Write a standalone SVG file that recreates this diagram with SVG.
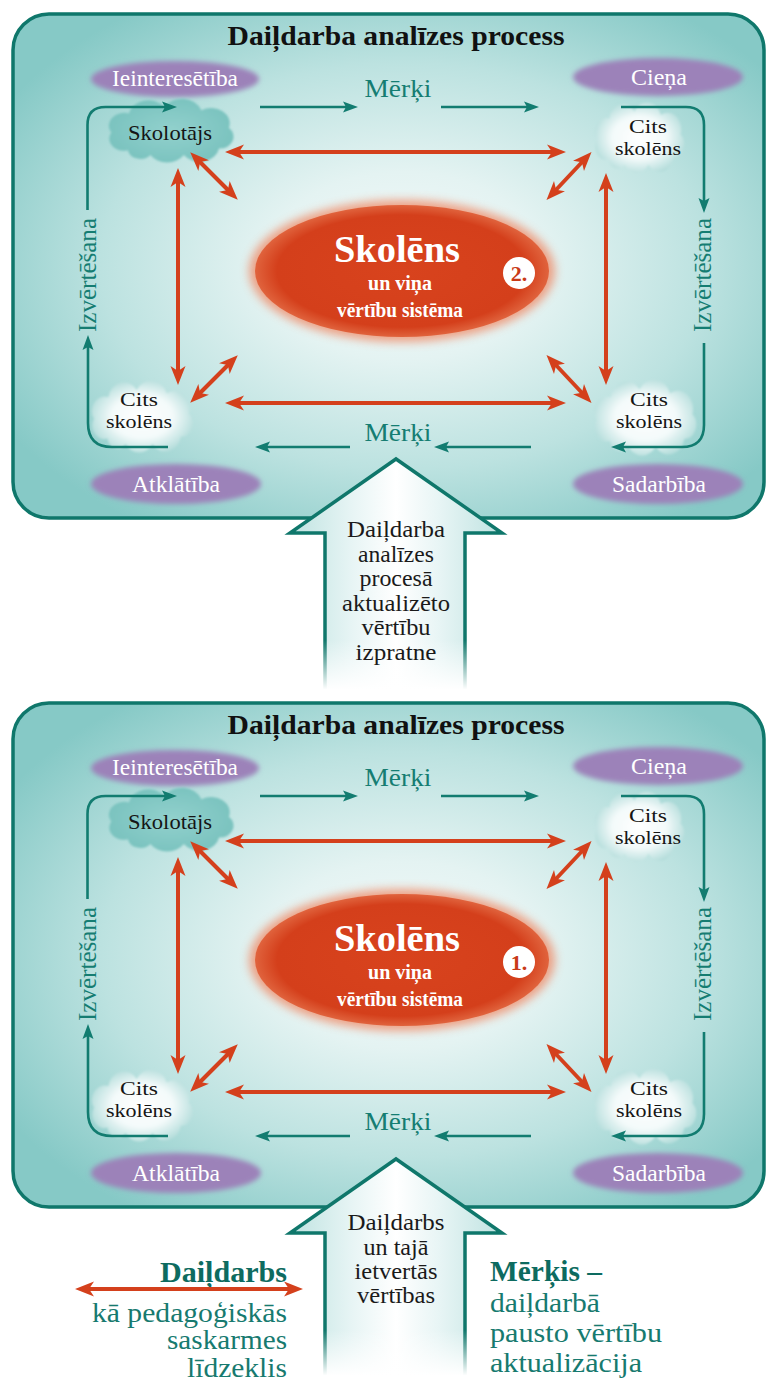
<svg xmlns="http://www.w3.org/2000/svg" width="768" height="1387" viewBox="0 0 768 1387" font-family="'Liberation Serif', 'DejaVu Serif', serif">
<style>
text { font-family: "Liberation Serif", "Times New Roman", "DejaVu Serif", serif; }
.title { font-size: 28px; font-weight: bold; fill: #111; text-anchor: middle; }
.pl { font-size: 23px; fill: #ffffff; text-anchor: middle; }
.pe { fill: #9c82b9; }
.tl { font-size: 25px; fill: #157d72; text-anchor: middle; }
.cl { font-size: 21px; fill: #151515; text-anchor: middle; }
.cs { font-size: 19px; fill: #151515; text-anchor: middle; }
.big { font-size: 38px; font-weight: bold; fill: #ffffff; text-anchor: middle; }
.sub { font-size: 20px; font-weight: bold; fill: #ffffff; text-anchor: middle; }
.num { font-size: 22px; font-weight: bold; fill: #c93a17; text-anchor: middle; }
.at { font-size: 23px; fill: #1a1a1a; text-anchor: middle; }
.red { stroke: #d4401c; stroke-width: 4; fill: none; }
.teal { stroke: #127c70; stroke-width: 2.6; fill: none; }
.arrowOut { fill: none; stroke: #0f776b; stroke-width: 3.5; stroke-linejoin: miter; }
.lg { font-size: 27px; fill: #177a6f; }
.lgb { font-size: 29px; font-weight: bold; fill: #0d6b60; }
</style>
<defs>
  <radialGradient id="panelG" cx="0.52" cy="0.5" r="0.62">
    <stop offset="0" stop-color="#f4fafa"/>
    <stop offset="0.3" stop-color="#e4f3f2"/>
    <stop offset="0.65" stop-color="#bce2e0"/>
    <stop offset="1" stop-color="#86c9c6"/>
  </radialGradient>
  <radialGradient id="redG" cx="0.5" cy="0.5" r="0.5">
    <stop offset="0" stop-color="#d8431d"/>
    <stop offset="0.85" stop-color="#d43f1b"/>
    <stop offset="1" stop-color="#e0633d"/>
  </radialGradient>
  <radialGradient id="cloudW" cx="0.5" cy="0.5" r="0.55">
    <stop offset="0" stop-color="#ffffff"/>
    <stop offset="0.55" stop-color="#f3fafa"/>
    <stop offset="1" stop-color="#b2dcda"/>
  </radialGradient>
  <radialGradient id="cloudT" cx="0.5" cy="0.5" r="0.55">
    <stop offset="0" stop-color="#92d1cd"/>
    <stop offset="1" stop-color="#79c2be"/>
  </radialGradient>
  <linearGradient id="arrowFill" x1="0" y1="0" x2="1" y2="0">
    <stop offset="0" stop-color="#bfe3e1"/>
    <stop offset="0.3" stop-color="#e8f5f5"/>
    <stop offset="0.5" stop-color="#ffffff"/>
    <stop offset="0.7" stop-color="#e8f5f5"/>
    <stop offset="1" stop-color="#bfe3e1"/>
  </linearGradient>
  <linearGradient id="fadeW" x1="0" y1="0" x2="0" y2="1">
    <stop offset="0" stop-color="#ffffff" stop-opacity="0"/>
    <stop offset="0.8" stop-color="#ffffff" stop-opacity="1"/>
    <stop offset="1" stop-color="#ffffff" stop-opacity="1"/>
  </linearGradient>
  <filter id="soft" x="-20%" y="-50%" width="140%" height="200%">
    <feGaussianBlur stdDeviation="2.5"/>
  </filter>
  <filter id="softc" x="-20%" y="-30%" width="140%" height="160%">
    <feGaussianBlur stdDeviation="1.3"/>
  </filter>
  <filter id="glow" x="-20%" y="-40%" width="140%" height="180%">
    <feGaussianBlur stdDeviation="5"/>
  </filter>
  <marker id="rh" viewBox="-10 -8 22 16" refX="0" refY="0" markerWidth="22" markerHeight="16" markerUnits="userSpaceOnUse" orient="auto-start-reverse">
    <path d="M11,0 L-8,-7.5 L-3,0 L-8,7.5 Z" fill="#d4401c"/>
  </marker>
  <marker id="th" viewBox="-8 -6 17 12" refX="0" refY="0" markerWidth="17" markerHeight="12" markerUnits="userSpaceOnUse" orient="auto">
    <path d="M8,0 L-7,-5.5 L-4,0 L-7,5.5 Z" fill="#127c70"/>
  </marker>
  <path id="cloud" d="M-45,24 A15,15 0 0 1 -62,2 A16,16 0 0 1 -44,-22 A20,20 0 0 1 -8,-30 A21,21 0 0 1 30,-26 A19,19 0 0 1 58,-4 A15,15 0 0 1 48,22 A20,20 0 0 1 12,30 A20,20 0 0 1 -22,30 A13,13 0 0 1 -45,24 Z"/>
</defs>

<rect x="0" y="0" width="768" height="1387" fill="#ffffff"/>

<!-- ============ PANEL 2 (top) ============ -->
<g id="top-panel">
  <g id="p1-frame">
    <rect x="13" y="14" width="751" height="504" rx="36" fill="url(#panelG)" stroke="#0f776b" stroke-width="3.5"/>
    <text class="title" x="396" y="45" textLength="337" lengthAdjust="spacingAndGlyphs">Daiļdarba analīzes process</text>
  </g>
  <g id="p1-ieinteresetiba"><ellipse class="pe" cx="175" cy="79" rx="84" ry="18" filter="url(#soft)"/><text class="pl" x="175" y="86" textLength="126" lengthAdjust="spacingAndGlyphs">Ieinteresētība</text></g>
  <g id="p1-ciena"><ellipse class="pe" cx="658" cy="77" rx="85" ry="19" filter="url(#soft)"/><text class="pl" x="659" y="85" textLength="56" lengthAdjust="spacingAndGlyphs">Cieņa</text></g>
  <g id="p1-atklatiba"><ellipse class="pe" cx="176" cy="484" rx="85" ry="20" filter="url(#soft)"/><text class="pl" x="176" y="492" textLength="88" lengthAdjust="spacingAndGlyphs">Atklātība</text></g>
  <g id="p1-sadarbiba"><ellipse class="pe" cx="658" cy="484" rx="85" ry="20" filter="url(#soft)"/><text class="pl" x="659" y="492" textLength="94" lengthAdjust="spacingAndGlyphs">Sadarbība</text></g>

  <g id="p1-skolotajs"><use href="#cloud" transform="translate(172,131) scale(0.98,0.8)" fill="url(#cloudT)" filter="url(#softc)"/><text class="cl" x="170" y="140" textLength="84" lengthAdjust="spacingAndGlyphs">Skolotājs</text></g>
  <g id="p1-cits-tr"><use href="#cloud" transform="translate(640,138) scale(0.7,0.88)" fill="url(#cloudW)" filter="url(#softc)"/><text class="cs" x="648" y="133" textLength="38" lengthAdjust="spacingAndGlyphs">Cits</text><text class="cs" x="648" y="155" textLength="66" lengthAdjust="spacingAndGlyphs">skolēns</text></g>
  <g id="p1-cits-bl"><use href="#cloud" transform="translate(143,417) scale(0.79,0.9)" fill="url(#cloudW)" filter="url(#softc)"/><text class="cs" x="139" y="406" textLength="38" lengthAdjust="spacingAndGlyphs">Cits</text><text class="cs" x="139" y="428" textLength="66" lengthAdjust="spacingAndGlyphs">skolēns</text></g>
  <g id="p1-cits-br"><use href="#cloud" transform="translate(646,418) scale(0.8,0.95)" fill="url(#cloudW)" filter="url(#softc)"/><text class="cs" x="649" y="406" textLength="38" lengthAdjust="spacingAndGlyphs">Cits</text><text class="cs" x="649" y="428" textLength="66" lengthAdjust="spacingAndGlyphs">skolēns</text></g>

  <g id="p1-skolens">
    <ellipse cx="402" cy="271" rx="153" ry="71" fill="#ef8560" opacity="0.75" filter="url(#glow)"/>
    <ellipse cx="402" cy="271" rx="147" ry="66" fill="url(#redG)"/>
    <text class="big" x="397" y="262" textLength="126" lengthAdjust="spacingAndGlyphs">Skolēns</text>
    <text class="sub" x="400" y="290" textLength="64" lengthAdjust="spacingAndGlyphs">un viņa</text>
    <text class="sub" x="400" y="317" textLength="126" lengthAdjust="spacingAndGlyphs">vērtību sistēma</text>
    <circle cx="519" cy="273" r="16" fill="#ffffff"/>
    <text class="num" x="519" y="281">2.</text>
  </g>

  <g id="p1-labels">
    <text class="tl" x="398" y="97" textLength="67" lengthAdjust="spacingAndGlyphs">Mērķi</text>
    <text class="tl" x="398" y="441" textLength="67" lengthAdjust="spacingAndGlyphs">Mērķi</text>
    <text class="tl" transform="translate(96,275) rotate(-90)" textLength="114" lengthAdjust="spacingAndGlyphs">Izvērtēšana</text>
    <text class="tl" transform="translate(711,275) rotate(-90)" textLength="114" lengthAdjust="spacingAndGlyphs">Izvērtēšana</text>
  </g>

  <g id="p1-connectors">
    <path class="teal" d="M260,107 H350" marker-end="url(#th)"/>
    <path class="teal" d="M441,107 H531" marker-end="url(#th)"/>
    <path class="teal" d="M350,447 H263" marker-end="url(#th)"/>
    <path class="teal" d="M531,447 H442" marker-end="url(#th)"/>
    <path class="teal" d="M87.5,210 V125 Q87.5,107 105.5,107 H169" marker-end="url(#th)"/>
    <path class="teal" d="M168,447 H112 Q88,447 88,423 V343" marker-end="url(#th)"/>
    <path class="teal" d="M621,107 H686 Q704,107 704,125 V205" marker-end="url(#th)"/>
    <path class="teal" d="M704,343 V425 Q704,447 682,447 H619" marker-end="url(#th)"/>
    <path class="red" d="M236,152 H555" marker-start="url(#rh)" marker-end="url(#rh)"/>
    <path class="red" d="M236,403 H555" marker-start="url(#rh)" marker-end="url(#rh)"/>
    <path class="red" d="M178,179 V374" marker-start="url(#rh)" marker-end="url(#rh)"/>
    <path class="red" d="M606,184 V374" marker-start="url(#rh)" marker-end="url(#rh)"/>
    <path class="red" d="M198,160 L230,192" marker-start="url(#rh)" marker-end="url(#rh)"/>
    <path class="red" d="M584,160 L554,192" marker-start="url(#rh)" marker-end="url(#rh)"/>
    <path class="red" d="M198,395 L230,363" marker-start="url(#rh)" marker-end="url(#rh)"/>
    <path class="red" d="M554,363 L584,395" marker-start="url(#rh)" marker-end="url(#rh)"/>
  </g>
</g>

<g id="top-arrow">
  <path d="M325,700 V533 H290 L396,459 L502,533 H465 V700 Z" fill="url(#arrowFill)"/>
  <path class="arrowOut" d="M325,700 V533 H290 L396,459 L502,533 H465 V700"/>
  <rect x="310" y="640" width="170" height="62" fill="url(#fadeW)"/>
  <text class="at" x="396" y="537" textLength="98" lengthAdjust="spacingAndGlyphs">Daiļdarba</text>
  <text class="at" x="396" y="562" textLength="76" lengthAdjust="spacingAndGlyphs">analīzes</text>
  <text class="at" x="396" y="586" textLength="73" lengthAdjust="spacingAndGlyphs">procesā</text>
  <text class="at" x="396" y="611" textLength="108" lengthAdjust="spacingAndGlyphs">aktualizēto</text>
  <text class="at" x="396" y="635" textLength="69" lengthAdjust="spacingAndGlyphs">vērtību</text>
  <text class="at" x="396" y="660" textLength="81" lengthAdjust="spacingAndGlyphs">izpratne</text>
</g>

<!-- ============ PANEL 1 (bottom) ============ -->
<g id="bottom-panel" transform="translate(0,689)">
  <g id="p2-frame">
    <rect x="13" y="14" width="751" height="504" rx="36" fill="url(#panelG)" stroke="#0f776b" stroke-width="3.5"/>
    <text class="title" x="396" y="45" textLength="337" lengthAdjust="spacingAndGlyphs">Daiļdarba analīzes process</text>
  </g>
  <g id="p2-ieinteresetiba"><ellipse class="pe" cx="175" cy="79" rx="84" ry="18" filter="url(#soft)"/><text class="pl" x="175" y="86" textLength="126" lengthAdjust="spacingAndGlyphs">Ieinteresētība</text></g>
  <g id="p2-ciena"><ellipse class="pe" cx="658" cy="77" rx="85" ry="19" filter="url(#soft)"/><text class="pl" x="659" y="85" textLength="56" lengthAdjust="spacingAndGlyphs">Cieņa</text></g>
  <g id="p2-atklatiba"><ellipse class="pe" cx="176" cy="484" rx="85" ry="20" filter="url(#soft)"/><text class="pl" x="176" y="492" textLength="88" lengthAdjust="spacingAndGlyphs">Atklātība</text></g>
  <g id="p2-sadarbiba"><ellipse class="pe" cx="658" cy="484" rx="85" ry="20" filter="url(#soft)"/><text class="pl" x="659" y="492" textLength="94" lengthAdjust="spacingAndGlyphs">Sadarbība</text></g>

  <g id="p2-skolotajs"><use href="#cloud" transform="translate(172,131) scale(0.98,0.8)" fill="url(#cloudT)" filter="url(#softc)"/><text class="cl" x="170" y="140" textLength="84" lengthAdjust="spacingAndGlyphs">Skolotājs</text></g>
  <g id="p2-cits-tr"><use href="#cloud" transform="translate(640,138) scale(0.7,0.88)" fill="url(#cloudW)" filter="url(#softc)"/><text class="cs" x="648" y="133" textLength="38" lengthAdjust="spacingAndGlyphs">Cits</text><text class="cs" x="648" y="155" textLength="66" lengthAdjust="spacingAndGlyphs">skolēns</text></g>
  <g id="p2-cits-bl"><use href="#cloud" transform="translate(143,417) scale(0.79,0.9)" fill="url(#cloudW)" filter="url(#softc)"/><text class="cs" x="139" y="406" textLength="38" lengthAdjust="spacingAndGlyphs">Cits</text><text class="cs" x="139" y="428" textLength="66" lengthAdjust="spacingAndGlyphs">skolēns</text></g>
  <g id="p2-cits-br"><use href="#cloud" transform="translate(646,418) scale(0.8,0.95)" fill="url(#cloudW)" filter="url(#softc)"/><text class="cs" x="649" y="406" textLength="38" lengthAdjust="spacingAndGlyphs">Cits</text><text class="cs" x="649" y="428" textLength="66" lengthAdjust="spacingAndGlyphs">skolēns</text></g>

  <g id="p2-skolens">
    <ellipse cx="402" cy="271" rx="153" ry="71" fill="#ef8560" opacity="0.75" filter="url(#glow)"/>
    <ellipse cx="402" cy="271" rx="147" ry="66" fill="url(#redG)"/>
    <text class="big" x="397" y="262" textLength="126" lengthAdjust="spacingAndGlyphs">Skolēns</text>
    <text class="sub" x="400" y="290" textLength="64" lengthAdjust="spacingAndGlyphs">un viņa</text>
    <text class="sub" x="400" y="317" textLength="126" lengthAdjust="spacingAndGlyphs">vērtību sistēma</text>
    <circle cx="519" cy="273" r="16" fill="#ffffff"/>
    <text class="num" x="519" y="281">1.</text>
  </g>

  <g id="p2-labels">
    <text class="tl" x="398" y="97" textLength="67" lengthAdjust="spacingAndGlyphs">Mērķi</text>
    <text class="tl" x="398" y="441" textLength="67" lengthAdjust="spacingAndGlyphs">Mērķi</text>
    <text class="tl" transform="translate(96,275) rotate(-90)" textLength="114" lengthAdjust="spacingAndGlyphs">Izvērtēšana</text>
    <text class="tl" transform="translate(711,275) rotate(-90)" textLength="114" lengthAdjust="spacingAndGlyphs">Izvērtēšana</text>
  </g>

  <g id="p2-connectors">
    <path class="teal" d="M260,107 H350" marker-end="url(#th)"/>
    <path class="teal" d="M441,107 H531" marker-end="url(#th)"/>
    <path class="teal" d="M350,447 H263" marker-end="url(#th)"/>
    <path class="teal" d="M531,447 H442" marker-end="url(#th)"/>
    <path class="teal" d="M87.5,210 V125 Q87.5,107 105.5,107 H169" marker-end="url(#th)"/>
    <path class="teal" d="M168,447 H112 Q88,447 88,423 V343" marker-end="url(#th)"/>
    <path class="teal" d="M621,107 H686 Q704,107 704,125 V205" marker-end="url(#th)"/>
    <path class="teal" d="M704,343 V425 Q704,447 682,447 H619" marker-end="url(#th)"/>
    <path class="red" d="M236,152 H555" marker-start="url(#rh)" marker-end="url(#rh)"/>
    <path class="red" d="M236,403 H555" marker-start="url(#rh)" marker-end="url(#rh)"/>
    <path class="red" d="M178,179 V374" marker-start="url(#rh)" marker-end="url(#rh)"/>
    <path class="red" d="M606,184 V374" marker-start="url(#rh)" marker-end="url(#rh)"/>
    <path class="red" d="M198,160 L230,192" marker-start="url(#rh)" marker-end="url(#rh)"/>
    <path class="red" d="M584,160 L554,192" marker-start="url(#rh)" marker-end="url(#rh)"/>
    <path class="red" d="M198,395 L230,363" marker-start="url(#rh)" marker-end="url(#rh)"/>
    <path class="red" d="M554,363 L584,395" marker-start="url(#rh)" marker-end="url(#rh)"/>
  </g>
</g>

<g id="bottom-arrow">
  <path d="M325,1400 V1233 H290 L396,1159 L502,1233 H465 V1400 Z" fill="url(#arrowFill)"/>
  <path class="arrowOut" d="M325,1400 V1233 H290 L396,1159 L502,1233 H465 V1400"/>
  <rect x="310" y="1330" width="170" height="57" fill="url(#fadeW)"/>
  <text class="at" x="396" y="1230" textLength="97" lengthAdjust="spacingAndGlyphs">Daiļdarbs</text>
  <text class="at" x="396" y="1255" textLength="65" lengthAdjust="spacingAndGlyphs">un tajā</text>
  <text class="at" x="396" y="1279" textLength="83" lengthAdjust="spacingAndGlyphs">ietvertās</text>
  <text class="at" x="396" y="1303" textLength="78" lengthAdjust="spacingAndGlyphs">vērtības</text>
</g>

<g id="legend-left">
  <text class="lgb" x="287" y="1282" text-anchor="end" textLength="127" lengthAdjust="spacingAndGlyphs">Daiļdarbs</text>
  <path class="red" d="M86,1289 H292" marker-start="url(#rh)" marker-end="url(#rh)"/>
  <text class="lg" x="287" y="1322" text-anchor="end" textLength="195" lengthAdjust="spacingAndGlyphs">kā pedagoģiskās</text>
  <text class="lg" x="287" y="1349" text-anchor="end" textLength="120" lengthAdjust="spacingAndGlyphs">saskarmes</text>
  <text class="lg" x="287" y="1377" text-anchor="end" textLength="100" lengthAdjust="spacingAndGlyphs">līdzeklis</text>
</g>

<g id="legend-right">
  <text class="lgb" x="490" y="1281" textLength="112" lengthAdjust="spacingAndGlyphs">Mērķis –</text>
  <text class="lg" x="490" y="1312" textLength="110" lengthAdjust="spacingAndGlyphs">daiļdarbā</text>
  <text class="lg" x="490" y="1342" textLength="172" lengthAdjust="spacingAndGlyphs">pausto vērtību</text>
  <text class="lg" x="490" y="1372" textLength="152" lengthAdjust="spacingAndGlyphs">aktualizācija</text>
</g>
</svg>
